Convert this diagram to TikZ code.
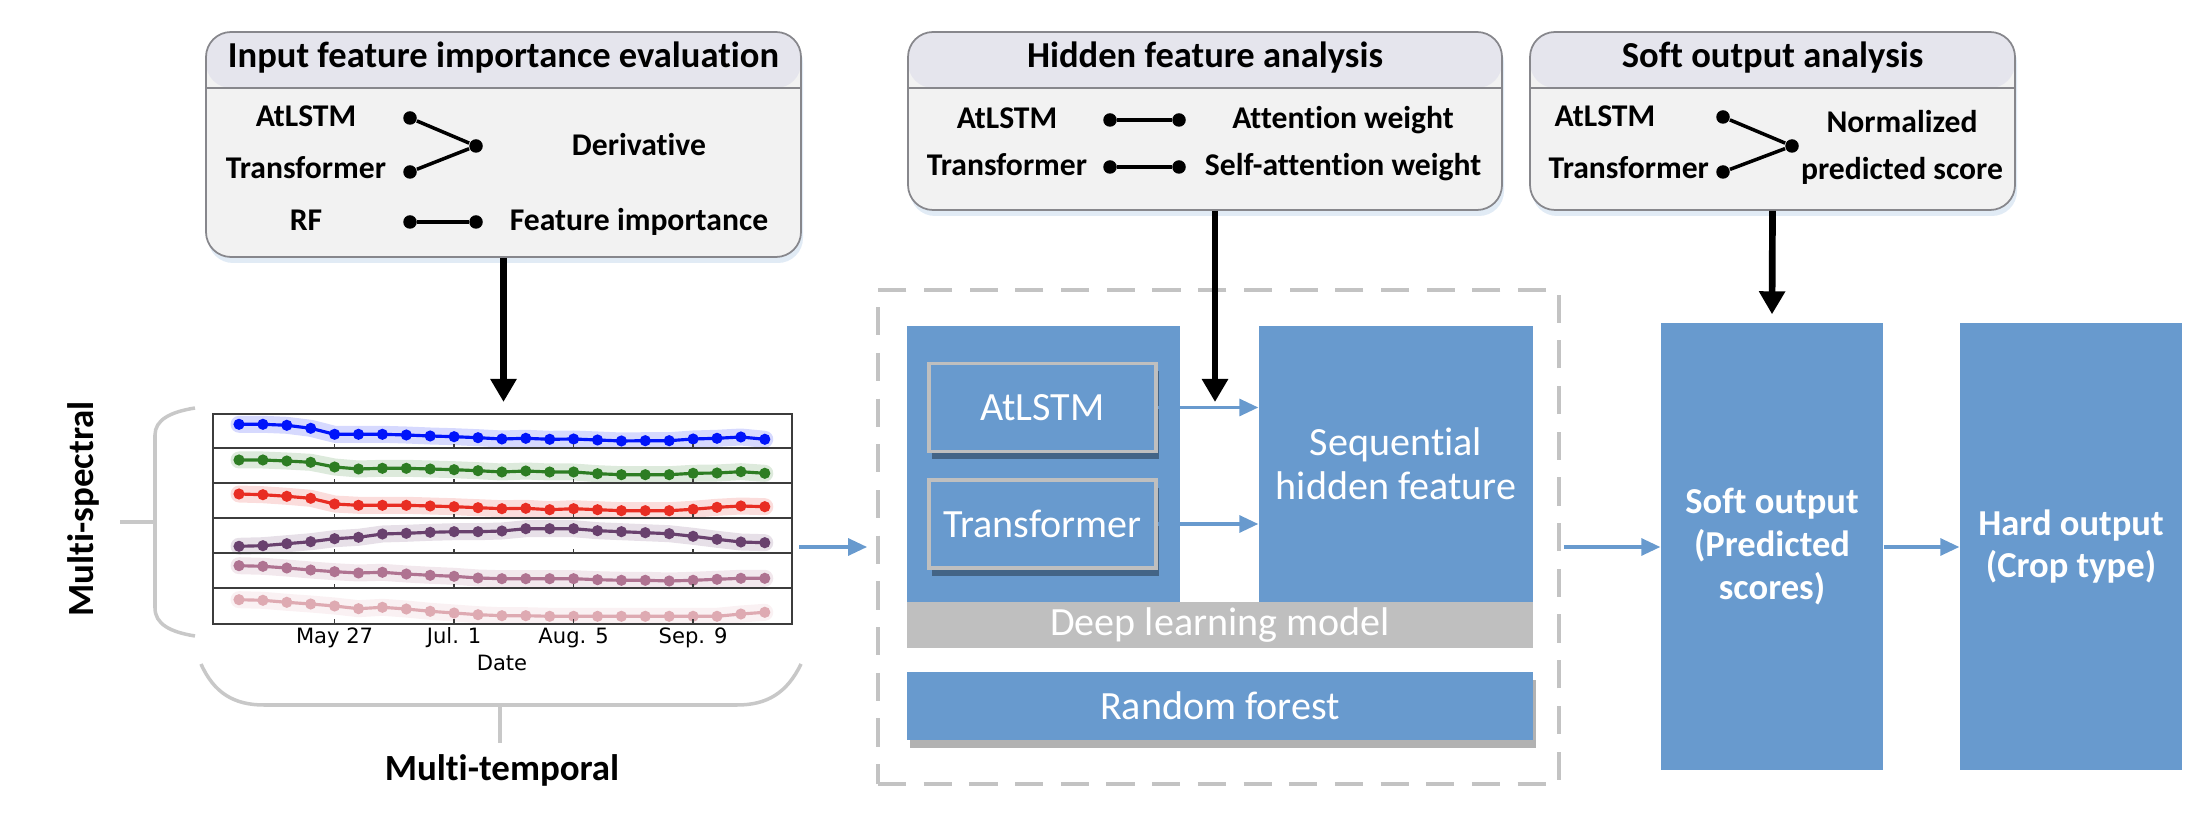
\documentclass[tikz,border=0pt]{standalone}
\usepackage{fontspec}
\setmainfont[Ligatures=NoCommon]{Carlito}
\newfontfamily\plotfont{DejaVu Sans}
\usepackage{tikz}
\usetikzlibrary{arrows.meta,positioning,calc,shadows}
\definecolor{boxline}{RGB}{135,135,140}
\definecolor{boxbody}{RGB}{242,242,242}
\definecolor{boxhead}{RGB}{229,229,237}
\definecolor{blockblue}{RGB}{104,154,206}
\definecolor{bandgray}{RGB}{191,191,191}
\definecolor{framegray}{RGB}{195,195,195}
\definecolor{bracegray}{RGB}{200,200,200}
\definecolor{chartline}{RGB}{60,60,60}
\definecolor{sblue}{RGB}{0,20,250}
\definecolor{sgreen}{RGB}{45,125,35}
\definecolor{sred}{RGB}{232,45,35}
\definecolor{spurple}{RGB}{105,65,110}
\definecolor{smauve}{RGB}{175,115,145}
\definecolor{spink}{RGB}{222,170,178}
\tikzset{
  panel/.style={draw=boxline, fill=boxbody, line width=0.5pt, rounded corners=2.5mm, inner sep=0pt,
    drop shadow={shadow xshift=0.2mm, shadow yshift=-0.6mm, fill=blockblue!50, opacity=0.4},
    path picture={
      \fill[boxhead] (path picture bounding box.north west) rectangle ([yshift=-5.6mm]path picture bounding box.north east);
      \draw[boxline, line width=0.5pt] ([yshift=-5.6mm]path picture bounding box.north west) -- ([yshift=-5.6mm]path picture bounding box.north east);
    }},
  paneltitle/.style={font=\bfseries\fontsize{10.4}{12}\selectfont, inner sep=0pt, anchor=mid},
  lbl/.style={font=\bfseries\fontsize{9}{11}\selectfont, inner sep=0pt, anchor=mid},
  dot/.style={circle, fill=black, inner sep=0pt, minimum size=1.35mm},
  link/.style={line width=1pt},
  blk/.style={fill=blockblue, text=white, inner sep=0pt, align=center, font=\fontsize{11.4}{12.6}\selectfont},
  sub/.style={blk, draw=bandgray, line width=1pt, minimum width=2.27cm, minimum height=0.88cm,
    drop shadow={shadow xshift=0.3mm, shadow yshift=-0.8mm, fill=black, opacity=0.35}},
  outblk/.style={blk, font=\bfseries\fontsize{10.4}{12.2}\selectfont, minimum width=2.22cm, minimum height=4.47cm},
  flow/.style={-{Triangle[length=1.9mm, width=1.7mm]}, draw=blockblue, line width=0.9pt},
  probe/.style={-{Triangle[length=2.3mm, width=2.5mm]}, line width=1.9pt},
  brace/.style={draw=bracegray, line width=1pt},
  sidelbl/.style={font=\bfseries\fontsize{10.5}{12}\selectfont, inner sep=0pt, anchor=mid},
  ticklbl/.style={font=\plotfont\fontsize{6}{7}\selectfont, inner sep=0pt},
  trendband/.style={line width=0.17cm, opacity=0.16, line join=round, line cap=round},
  trendline/.style={line width=0.9pt, line join=round},
}

\begin{document}
\begin{tikzpicture}
  \useasboundingbox (0,0) rectangle (22.06,-8.32);

  % analysis panels
  \node[panel, minimum width=5.95cm, minimum height=2.25cm] (impbox) at (5.035,-1.445) {};
  \node[paneltitle] (imptitle) at ([yshift=-2.8mm]impbox.north) {Input feature importance evaluation};
  \node[lbl] (impatl) at (3.06,-1.18) {AtLSTM};
  \node[lbl] (imptrf) at (3.06,-1.70) {Transformer};
  \node[lbl] (imprf) at (3.06,-2.22) {RF};
  \node[dot] (impd1) at (4.10,-1.18) {};
  \node[dot] (impd2) at (4.10,-1.72) {};
  \node[dot] (impd3) at (4.76,-1.46) {};
  \node[dot] (impd4) at (4.10,-2.22) {};
  \node[dot] (impd5) at (4.76,-2.22) {};
  \node[lbl] (impder) at (6.39,-1.47) {Derivative};
  \node[lbl] (impfi) at (6.39,-2.22) {Feature importance};
  \draw[link] (impd1) -- (impd3) -- (impd2);
  \draw[link] (impd4) -- (impd5);

  \node[panel, minimum width=5.94cm, minimum height=1.78cm] (hidbox) at (12.05,-1.21) {};
  \node[paneltitle] (hidtitle) at ([yshift=-2.8mm]hidbox.north) {Hidden feature analysis};
  \node[lbl] (hidatl) at (10.07,-1.20) {AtLSTM};
  \node[lbl] (hidtrf) at (10.07,-1.67) {Transformer};
  \node[dot] (hidd1) at (11.10,-1.20) {};
  \node[dot] (hidd2) at (11.79,-1.20) {};
  \node[dot] (hidd3) at (11.10,-1.67) {};
  \node[dot] (hidd4) at (11.79,-1.67) {};
  \node[lbl] (hidatt) at (13.43,-1.20) {Attention weight};
  \node[lbl] (hidself) at (13.43,-1.67) {Self-attention weight};
  \draw[link] (hidd1) -- (hidd2);
  \draw[link] (hidd3) -- (hidd4);

  \node[panel, minimum width=4.85cm, minimum height=1.78cm] (sofbox) at (17.725,-1.21) {};
  \node[paneltitle] (softitle) at ([yshift=-2.8mm]sofbox.north) {Soft output analysis};
  \node[lbl, anchor=mid west] (sofatl) at (15.54,-1.18) {AtLSTM};
  \node[lbl, anchor=mid west] (softrf) at (15.48,-1.70) {Transformer};
  \node[dot] (sofd1) at (17.23,-1.17) {};
  \node[dot] (sofd2) at (17.23,-1.72) {};
  \node[dot] (sofd3) at (17.92,-1.46) {};
  \node[lbl, anchor=center, align=center, font=\bfseries\fontsize{9}{13.4}\selectfont] (sofnorm) at (19.02,-1.47) {Normalized\\predicted score};
  \draw[link] (sofd1) -- (sofd3) -- (sofd2);

  % time series
  \foreach \k/\col/\vals in {
    0/sblue/{10.3,10.3,11.3,14.3,20.3,20.3,20.3,21,22,22.7,23.7,25,24.3,25.3,25,26,27,26.7,26.7,25,24.3,23,25.3},
    1/sgreen/{11,11,12,13.3,18,20,19.3,19.3,20,20.7,21.7,23,22,23,23,24.7,25.7,25.7,25.7,24.3,24,22.7,24.3},
    2/sred/{10,10.7,12.3,14.3,20,21.3,21.3,21.3,22,22.7,23.7,24.7,24.3,25.7,24.7,25.7,26.7,26.7,26.7,25.3,23.3,22,22.7},
    3/spurple/{27.3,26.7,24.7,22.7,19.7,18.3,15,14.3,13.3,12.7,12.7,12,9.7,9.7,9.7,11.7,12.7,13.7,14.7,17.3,20.3,23,23.7},
    4/smauve/{11.7,12.3,14,16,17.7,19,18.3,20,21.3,22.3,24,24.7,24.7,24.7,24.7,25.7,26.3,26.3,27,26.3,25.3,24.3,24.3},
    5/spink/{10.7,11.3,13.3,15,17,19.7,18.3,20,22.3,24,25.7,26.7,26.7,27.3,27.3,27.3,27.3,27.3,27.3,27.3,27.3,25,23.3}}
  {
    \gdef\trace{}
    \foreach \v [count=\i from 0] in \vals
      {\xdef\trace{\trace\ifnum\i>0 --\fi(2.39+\i*0.239,-4.14-\k*0.35-\v/100)}}
    \edef\tmp{\noexpand\draw[trendband,\col] \trace; \noexpand\draw[trendline,\col] \trace;}
    \tmp
    \foreach \v [count=\i from 0] in \vals
      \fill[\col] (2.39+\i*0.239,-4.14-\k*0.35-\v/100) circle (0.056);
  }
  \node[draw=chartline, line width=0.6pt, minimum width=5.79cm, minimum height=2.10cm, inner sep=0pt] (chart) at (5.025,-5.19) {};
  \foreach \k in {1,...,5}
    \draw[chartline, line width=0.6pt] ($(chart.north west)+(0,-\k*0.35)$) -- ($(chart.north east)+(0,-\k*0.35)$);
  \foreach \k in {1,...,6}
    \foreach \i in {4,9,14,19}
      \draw[chartline, line width=0.5pt] (2.39+\i*0.239,-4.14-\k*0.35) -- ++(0,0.05);
  \foreach \i/\d in {4/May 27, 9/Jul. 1, 14/Aug. 5, 19/Sep. 9}
    \node[ticklbl] (tick\i) at (2.39+\i*0.239,-6.38) {\d};
  \node[ticklbl] (datelbl) at (5.02,-6.63) {Date};

  % brackets
  \coordinate (specmid) at (1.55,-5.22);
  \coordinate (tempmid) at (5.00,-7.05);
  \draw[brace] (1.95,-4.08) .. controls (1.70,-4.12) and (1.55,-4.20) .. (1.55,-4.35) -- (1.55,-6.08) .. controls (1.55,-6.24) and (1.70,-6.32) .. (1.95,-6.36);
  \draw[brace] (specmid) -- ++(-0.35,0);
  \node[sidelbl, rotate=90] (mspec) at (0.85,-5.09) {Multi-spectral};
  \draw[brace] (2.01,-6.64) .. controls (2.14,-6.93) and (2.34,-7.05) .. (2.64,-7.05) -- (7.37,-7.05) .. controls (7.67,-7.05) and (7.87,-6.93) .. (8.01,-6.64);
  \draw[brace] (tempmid) -- ++(0,-0.38);
  \node[sidelbl] (mtemp) at (5.02,-7.72) {Multi-temporal};

  % models
  \node[draw=framegray, line width=1.1pt, dash pattern=on 8pt off 5pt, minimum width=6.81cm, minimum height=4.94cm] (mfram) at (12.185,-5.37) {};
  \node[blk, minimum width=2.73cm, minimum height=2.76cm] (dlbox) at (10.435,-4.64) {};
  \node[blk, minimum width=2.74cm, minimum height=2.76cm] (seqbox) at (13.96,-4.64) {Sequential\\hidden feature};
  \node[blk, fill=bandgray, minimum width=6.26cm, minimum height=0.46cm] (dlband) at (12.20,-6.25) {Deep learning model};
  \node[blk, minimum width=6.26cm, minimum height=0.68cm, drop shadow={shadow xshift=0.3mm, shadow yshift=-0.8mm, fill=black, opacity=0.3}] (rfbox) at (12.20,-7.06) {Random forest};
  \node[sub] (atlbox) at (10.425,-4.075) {AtLSTM};
  \node[sub] (trfbox) at (10.425,-5.24) {Transformer};
  \draw[flow] (atlbox.east) -- (atlbox.east -| seqbox.west);
  \draw[flow] (trfbox.east) -- (trfbox.east -| seqbox.west);

  \node[outblk] (softout) at (17.72,-5.465) {Soft output\\(Predicted\\scores)};
  \node[outblk] (hardout) at (20.71,-5.465) {Hard output\\(Crop type)};

  \coordinate (flowy) at (0,-5.47);
  \draw[flow] ([xshift=0.6mm]chart.east |- flowy) -- ([xshift=-0.9mm]mfram.west |- flowy);
  \draw[flow] ([xshift=0.3mm]mfram.east |- flowy) -- (softout.west |- flowy);
  \draw[flow] (softout.east |- flowy) -- (hardout.west |- flowy);

  \coordinate (hidtip) at (12.15,-4.02);
  \draw[probe] (impbox.south) -- ([yshift=1.1mm]chart.north -| impbox.south);
  \draw[probe] (hidbox.south -| hidtip) -- (hidtip);
  \draw[probe] (sofbox.south) -- ([yshift=0.8mm]softout.north);
\end{tikzpicture}
\end{document}
